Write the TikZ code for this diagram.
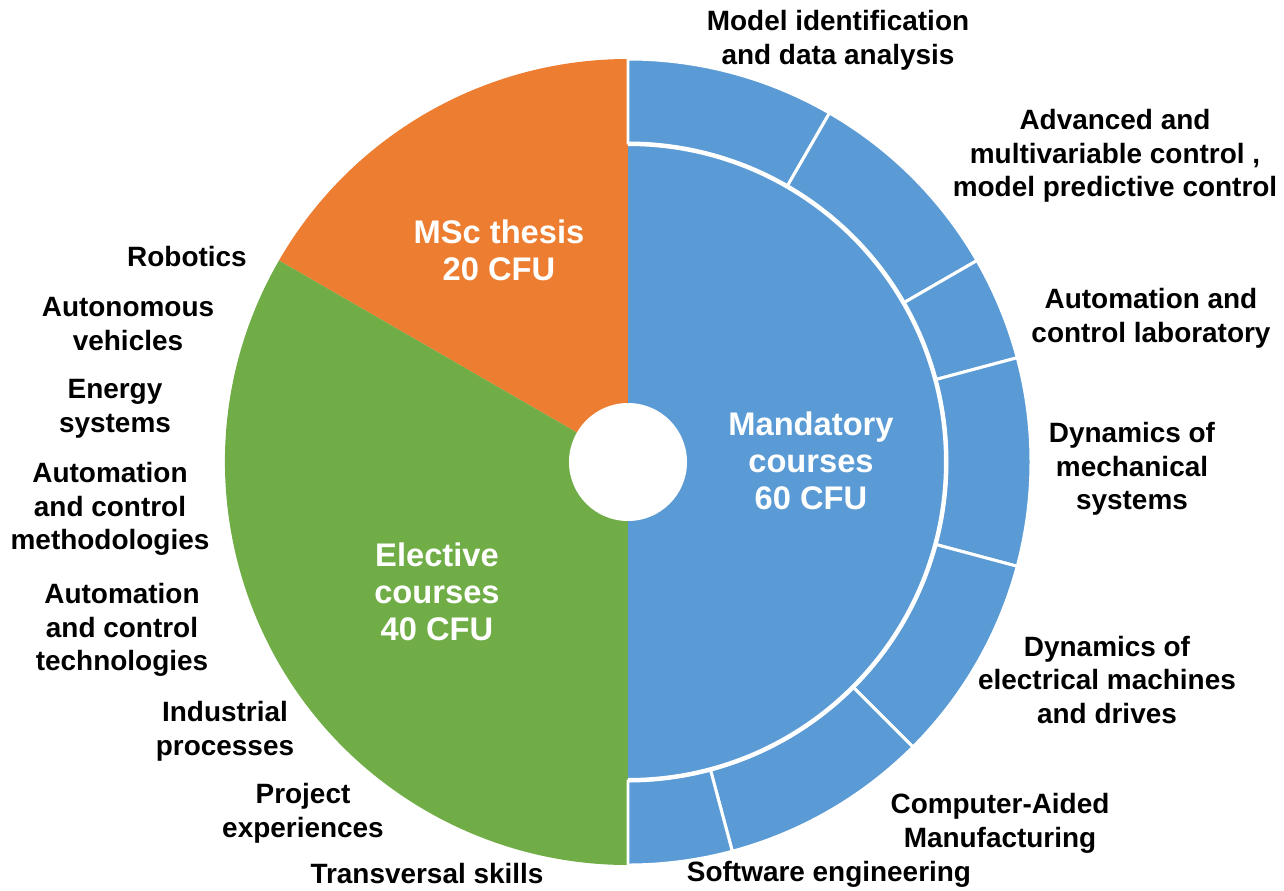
\documentclass[tikz,border=0pt]{standalone}
\usepackage{fontspec}
\setmainfont{Liberation Sans}
\definecolor{pieblue}{HTML}{5B9BD5}
\definecolor{pieorange}{HTML}{ED7D31}
\definecolor{piegreen}{HTML}{70AD47}
\tikzset{
  outlabel/.style={font=\fontsize{15.9}{19.2}\selectfont\bfseries, align=center, text=black},
  inlabel/.style={font=\fontsize{18.6}{21.2}\selectfont\bfseries, align=center, text=white},
  ringseg/.style={fill=pieblue, draw=white, line width=1.7pt, line join=miter}
}
\begin{document}
\begin{tikzpicture}[x=0.02cm,y=0.02cm]
\useasboundingbox (-628,-428) rectangle (656,462);

      \coordinate (o) at (0,0);

% the three parts of the pie
\fill[pieorange] (o) -- (90:403) arc (90:150:403) -- cycle;
\fill[piegreen] (o) -- (150:403) arc (150:270:403) -- cycle;
\fill[pieblue] (o) -- (-90:403) arc (-90:90:403) -- cycle;

% outer ring of the mandatory courses
\foreach \a/\b in {90/60, 60/30, 30/15, 15/-15, -15/-45, -45/-75, -75/-90}
  \filldraw[ringseg] (\a:319) arc (\a:\b:319) -- (\b:403) arc (\b:\a:403) -- cycle;
\draw[white, line width=2.3pt] (-90:318) arc (-90:90:318);

\fill[white] (o) circle (59);

% parts
\node[inlabel] (thesis) at (-129,212) {MSc thesis\\20 CFU};
\node[inlabel] (mandatory) at (183,1) {Mandatory\\courses\\60 CFU};
\node[inlabel] (elective) at (-191,-130) {Elective\\courses\\40 CFU};

% mandatory courses
\node[outlabel] (identif) at (210,422) {Model identification\\and data analysis};
\node[outlabel] (advanced) at (487,306) {Advanced and\\multivariable control ,\\model predictive control};
\node[outlabel] (lab) at (523,144) {Automation and\\control laboratory};
\node[outlabel] (mech) at (504,-7) {Dynamics of\\mechanical\\systems};
\node[outlabel] (elec) at (479,-218) {Dynamics of\\electrical machines\\and drives};
\node[outlabel] (cam) at (372,-361) {Computer-Aided\\Manufacturing};
\node[outlabel] (software) at (201,-412) {Software engineering};

% elective courses
\node[outlabel] (robotics) at (-441,205) {Robotics};
\node[outlabel] (vehicles) at (-500,138) {Autonomous\\vehicles};
\node[outlabel] (energy) at (-513,53) {Energy\\systems};
\node[outlabel] (method) at (-518,-47) {Automation\\and control\\methodologies};
\node[outlabel] (techno) at (-506,-168) {Automation\\and control\\technologies};
\node[outlabel] (industrial) at (-403,-269) {Industrial\\processes};
\node[outlabel] (project) at (-325,-351) {Project\\experiences};
\node[outlabel] (transversal) at (-201,-412) {Transversal skills};
\end{tikzpicture}
\end{document}
